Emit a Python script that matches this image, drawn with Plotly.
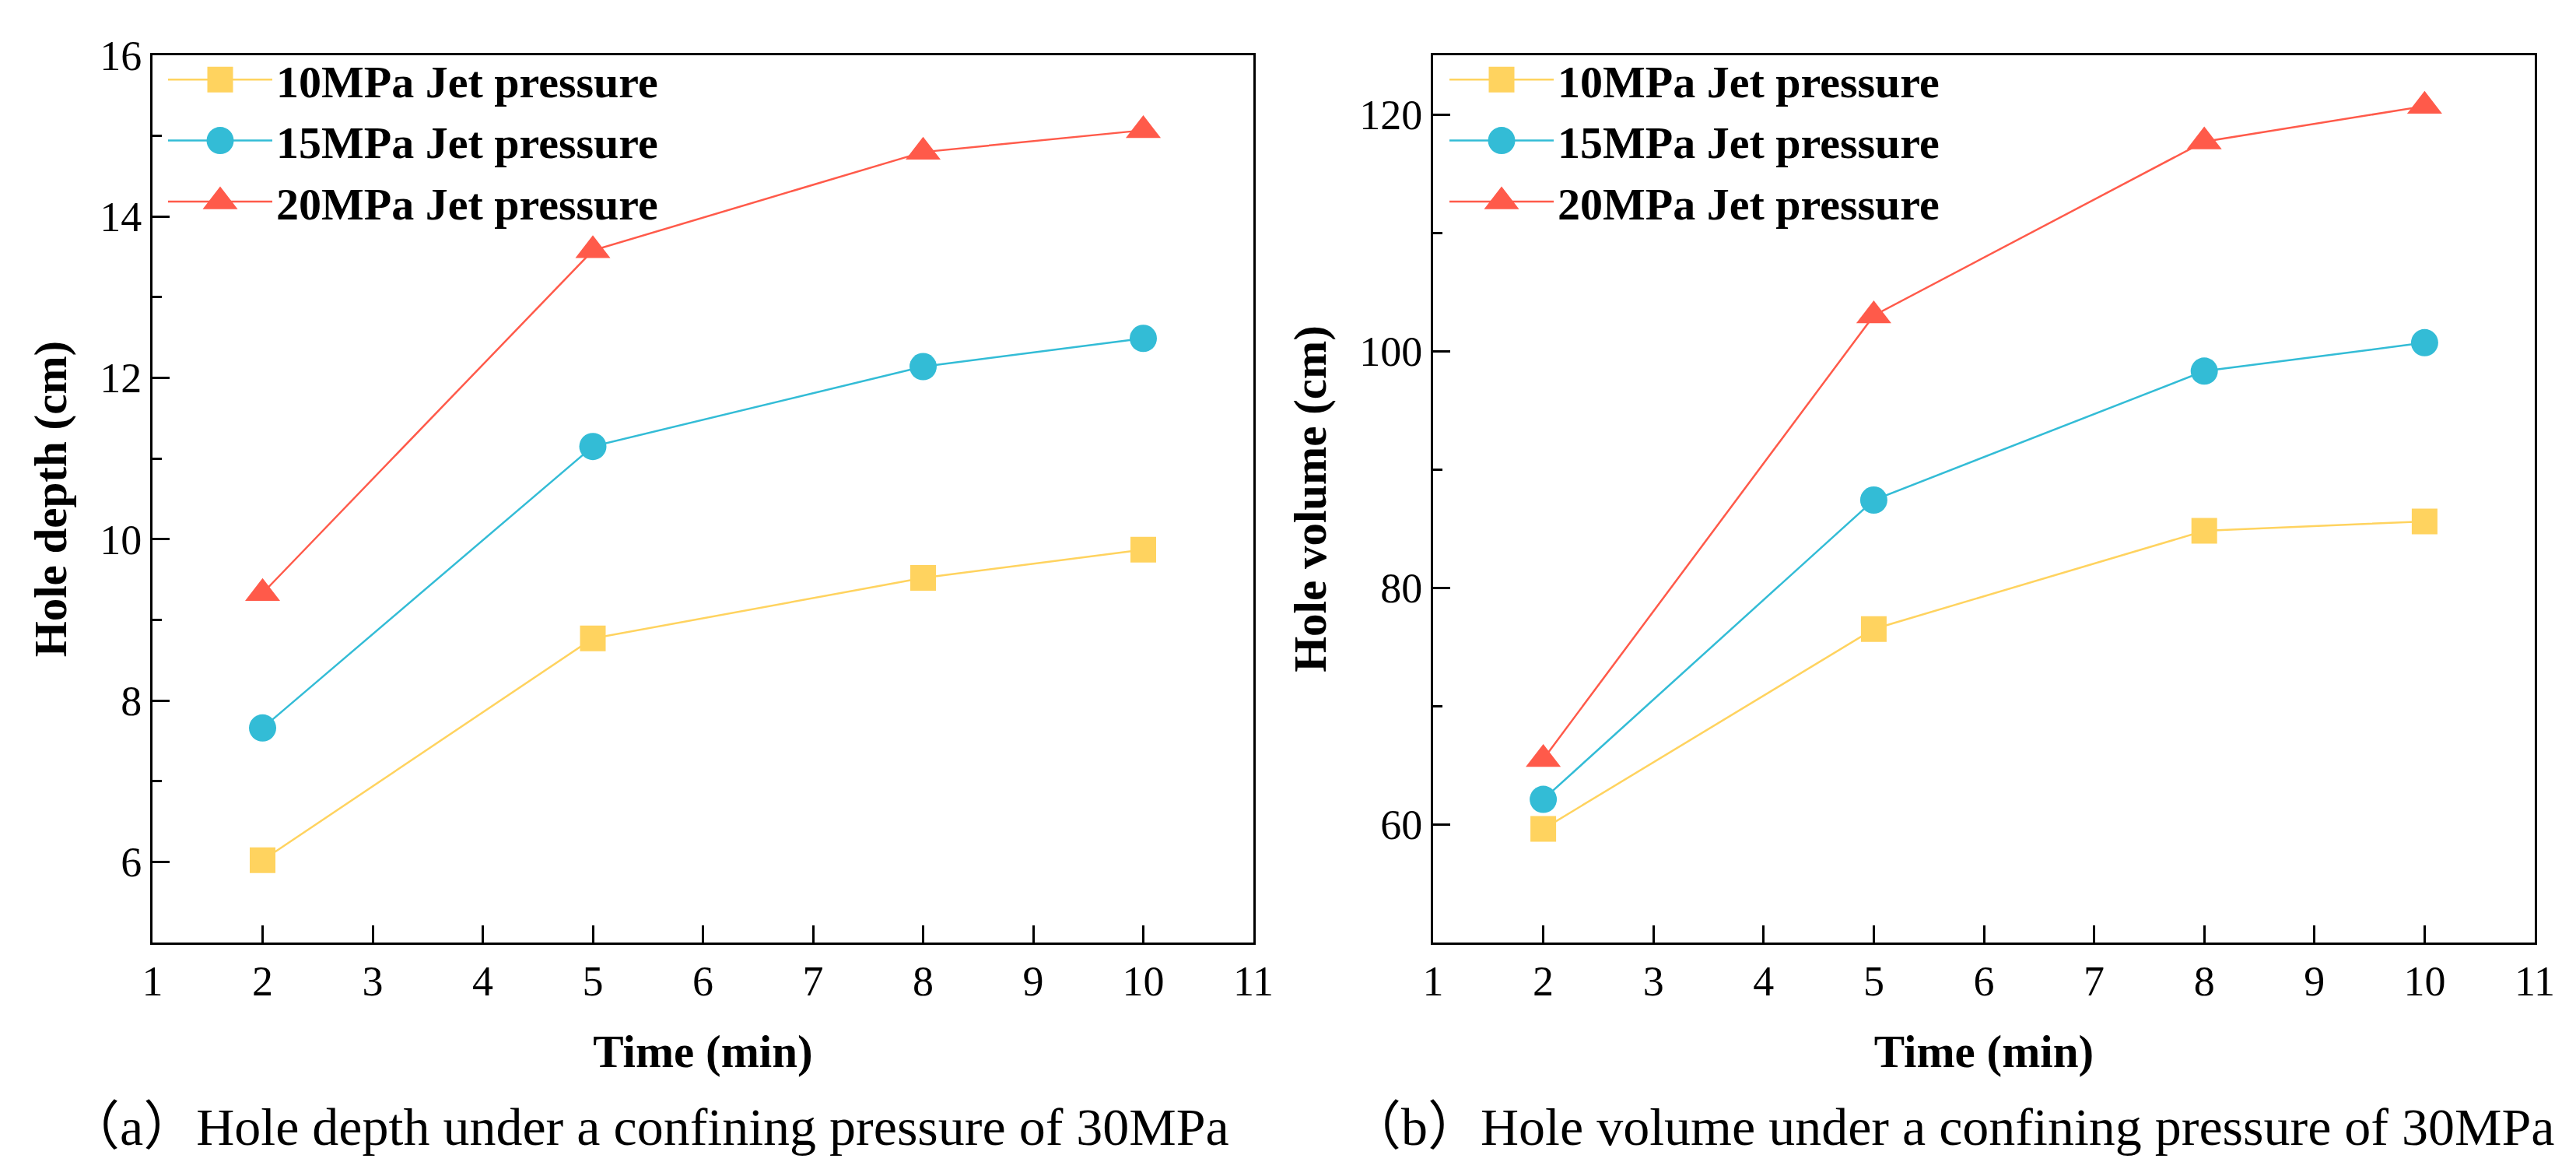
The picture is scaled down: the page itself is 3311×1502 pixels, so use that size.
import plotly.graph_objects as go

# Tid (min) och mätvärden
tid = [2, 5, 8, 10]
serier = ["10MPa Jet pressure", "15MPa Jet pressure", "20MPa Jet pressure"]

djup_10 = [6.02, 8.77, 9.52, 9.87]
djup_15 = [7.66, 11.15, 12.14, 12.49]
djup_20 = [9.33, 13.58, 14.80, 15.07]

volym_10 = [59.6, 76.5, 84.8, 85.6]
volym_15 = [62.1, 87.4, 98.3, 100.7]
volym_20 = [65.5, 103.0, 117.7, 120.7]

x_ticks = list(range(1, 12))

rubrik_a = "（a）Hole depth under a confining pressure of 30MPa"
rubrik_b = "（b）Hole volume under a confining pressure of 30MPa"

farger = ["#FFD35F", "#33BCD6", "#FF5A4A"]
symboler = ["square", "circle", "triangle-up"]
storlekar = [33, 35, 39]

SERIF = "Liberation Serif, Times New Roman, serif"

W, H = 3311, 1502
ML, MR, MT, MB = 188, 61, 63, 299
PW = W - ML - MR
PH = H - MT - MB


def px_x(p):
    return (p - ML) / PW


def px_y(p):
    return (H - MB - p) / PH


fig = go.Figure()

for i, (namn, y) in enumerate(zip(serier, [djup_10, djup_15, djup_20])):
    fig.add_trace(go.Scatter(
        x=tid, y=y, name=namn, mode="lines+markers",
        line=dict(color=farger[i], width=2.5),
        marker=dict(symbol=symboler[i], size=storlekar[i], color=farger[i], line=dict(width=0)),
        xaxis="x", yaxis="y", legend="legend"))

for i, (namn, y) in enumerate(zip(serier, [volym_10, volym_15, volym_20])):
    fig.add_trace(go.Scatter(
        x=tid, y=y, name=namn, mode="lines+markers",
        line=dict(color=farger[i], width=2.5),
        marker=dict(symbol=symboler[i], size=storlekar[i], color=farger[i], line=dict(width=0)),
        xaxis="x2", yaxis="y2", legend="legend2"))

axel = dict(showline=True, linecolor="black", linewidth=3, mirror=True,
            ticks="inside", ticklen=22, tickwidth=3, tickcolor="black",
            showgrid=False, zeroline=False,
            tickfont=dict(family=SERIF, size=54, color="black"))

titel_font = dict(family=SERIF, size=59, color="black", weight="bold")
leg_font = dict(family=SERIF, size=58, color="black", weight="bold")

fig.update_layout(
    width=W, height=H,
    margin=dict(l=ML, r=MR, t=MT, b=MB),
    plot_bgcolor="white", paper_bgcolor="white",
    xaxis=dict(axel, domain=[0, px_x(1603)], range=[1, 11], tickvals=x_ticks,
               title=dict(text="Time (min)", font=titel_font, standoff=40), anchor="y"),
    yaxis=dict(axel, domain=[0, 1], range=[5, 16], dtick=2, tick0=0,
               minor=dict(ticks="inside", ticklen=12, tickwidth=3, tickcolor="black", dtick=1, showgrid=False),
               title=dict(text="Hole depth (cm)", font=titel_font, standoff=24), anchor="x"),
    xaxis2=dict(axel, domain=[px_x(1834), 1], range=[1, 11], tickvals=x_ticks,
                title=dict(text="Time (min)", font=titel_font, standoff=40), anchor="y2"),
    yaxis2=dict(axel, domain=[0, 1], range=[50, 125], dtick=20, tick0=0,
                minor=dict(ticks="inside", ticklen=12, tickwidth=3, tickcolor="black", dtick=10, showgrid=False),
                title=dict(text="Hole volume (cm)", font=titel_font, standoff=24), anchor="x2"),
    legend=dict(x=px_x(203), y=px_y(50), xanchor="left", yanchor="top",
                bgcolor="rgba(0,0,0,0)", itemwidth=134, font=leg_font),
    legend2=dict(x=px_x(1850), y=px_y(50), xanchor="left", yanchor="top",
                 bgcolor="rgba(0,0,0,0)", itemwidth=134, font=leg_font),
)

cap_font = dict(family="Liberation Serif, Noto Sans CJK SC, serif", size=68, color="black")
fig.add_annotation(text=rubrik_a, x=px_x(825), y=px_y(1440), xref="paper", yref="paper",
                   xanchor="center", yanchor="middle", showarrow=False, font=cap_font)
fig.add_annotation(text=rubrik_b, x=px_x(2500), y=px_y(1440), xref="paper", yref="paper",
                   xanchor="center", yanchor="middle", showarrow=False, font=cap_font)

# legendens symboler begränsas till 16 px av plotly, skala upp dem till samma storlek som i diagrammet
skala = [s / 16 for s in storlekar]
post_js = """
var skala = %s;
['legend', 'legend2'].forEach(function(id) {
  var g = document.querySelector('g.infolayer g.' + id);
  if (!g) return;
  g.querySelectorAll('g.traces').forEach(function(t, i) {
    t.querySelectorAll('path.scatterpts').forEach(function(p) {
      var tr = p.getAttribute('transform') || '';
      p.setAttribute('transform', tr + ' scale(' + skala[i] + ')');
    });
  });
});
""" % skala

fig.write_html("out.html", post_script=post_js)
